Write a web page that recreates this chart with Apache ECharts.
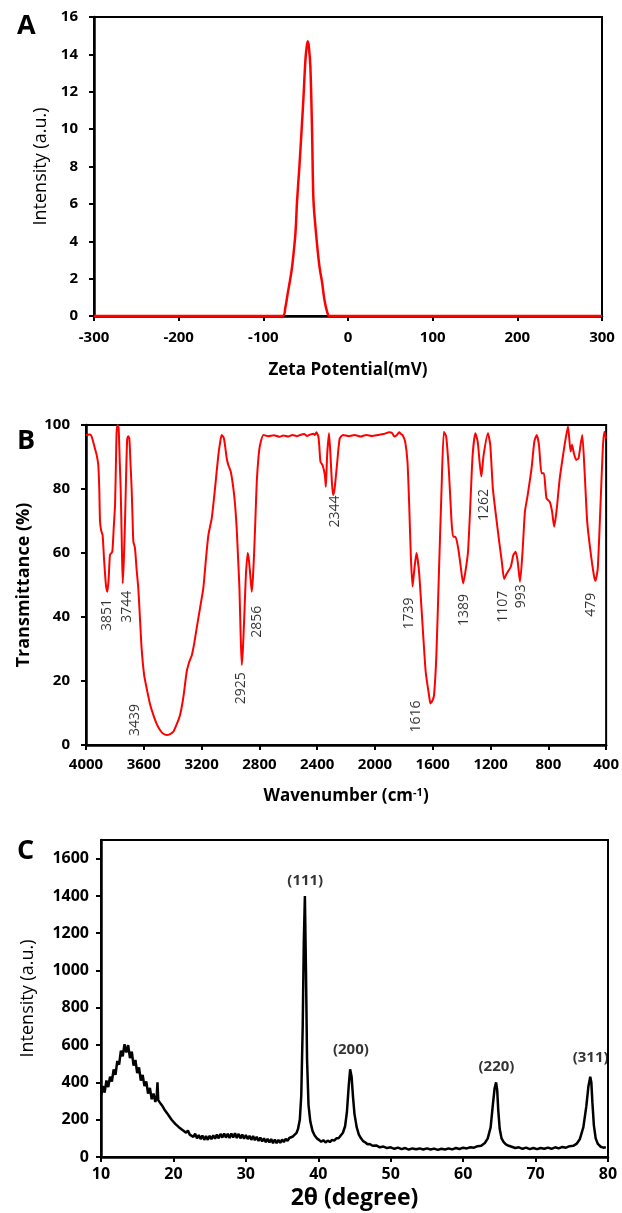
<!DOCTYPE html>
<html>
<head>
<meta charset="utf-8">
<script src="https://cdn.jsdelivr.net/npm/echarts@6/dist/echarts.min.js"></script>
<style>
html, body { margin: 0; padding: 0; background: #fff; }
#chart { width: 622px; height: 1213px; }
</style>
</head>
<body>
<div id="chart"></div>
<script>
// A: zeta potential distribution
var zetaPotential = [-300, -77.2, -74, -71.2, -68.5, -66, -62.1, -60.1, -57.4, -55, -52.7, -50.3, -48.8, -47.6, -46.2, -44.4, -42.4, -40.8, -37.7, -33.7, -30.6, -27.8, -24.5, -22, 300];
var zetaIntensity = [0, 0, 0.45, 1.21, 1.9, 2.64, 4.42, 6.2, 8.0, 9.8, 11.6, 13.7, 14.4, 14.7, 14.4, 13.3, 9.8, 6.2, 4.4, 2.64, 1.8, 0.86, 0.2, 0, 0];

// B: FTIR spectrum
var ftirWavenumber = [4000, 3972, 3961, 3940, 3926, 3915, 3908, 3903, 3895, 3885, 3875, 3862, 3852, 3843, 3834, 3818, 3808, 3799, 3792, 3788, 3780, 3774, 3766, 3760, 3753, 3746, 3738, 3730, 3722, 3715, 3708, 3700, 3692, 3684, 3676, 3672, 3661, 3650, 3638, 3627, 3615, 3598, 3580, 3558, 3534, 3510, 3488, 3465, 3442, 3418, 3395, 3372, 3349, 3326, 3303, 3285, 3268, 3250, 3234, 3210, 3188, 3170, 3153, 3130, 3107, 3084, 3070, 3061, 3045, 3026, 3015, 2998, 2980, 2968, 2957, 2947, 2938, 2930, 2922, 2914, 2906, 2898, 2892, 2881, 2873, 2865, 2853, 2845, 2837, 2828, 2818, 2806, 2795, 2772, 2740, 2700, 2660, 2634, 2600, 2570, 2540, 2518, 2490, 2470, 2450, 2426, 2416, 2405, 2400, 2392, 2386, 2377, 2363, 2347, 2340, 2331, 2318, 2308, 2298, 2290, 2279, 2263, 2244, 2221, 2180, 2140, 2100, 2061, 2020, 1980, 1940, 1901, 1880, 1866, 1850, 1832, 1820, 1809, 1791, 1775, 1763, 1752, 1740, 1729, 1713, 1695, 1672, 1649, 1626, 1616, 1601, 1591, 1575, 1557, 1539, 1523, 1507, 1488, 1470, 1459, 1443, 1424, 1408, 1390, 1374, 1356, 1340, 1324, 1305, 1289, 1276, 1264, 1248, 1218, 1202, 1184, 1163, 1140, 1122, 1106, 1088, 1060, 1042, 1026, 1012, 996, 980, 962, 943, 916, 897, 881, 865, 847, 831, 813, 790, 774, 760, 744, 721, 698, 680, 664, 646, 636, 623, 607, 591, 577, 565, 549, 531, 508, 485, 474, 458, 439, 423, 412, 400];
var ftirTransmittance = [96.9, 97, 96.4, 93, 90.6, 87.5, 80, 70, 67, 65.6, 58, 50, 47.9, 52, 59.4, 60.4, 68, 75, 90, 97.9, 100, 99, 88, 80, 65, 50.5, 58, 69.8, 85, 95.5, 96.5, 95.8, 88, 80, 68, 63.5, 61.5, 55, 49, 40, 30.2, 22, 17.7, 13, 9.4, 6.5, 4.7, 3.5, 3.1, 3.4, 4.2, 6.5, 9.4, 15, 22.9, 26, 28, 32, 36.5, 43, 49, 58, 65.6, 70.8, 80.2, 90.6, 95, 96.9, 95.8, 89.6, 87.5, 85.4, 80.2, 75, 67.7, 58, 49, 35, 25, 30, 38.5, 48, 54.2, 60, 58, 54.2, 47.9, 52, 59.4, 70, 82.3, 90, 93.8, 96.9, 96.5, 96.8, 96.3, 96.7, 96.4, 96.9, 96.5, 96.9, 97.2, 96.6, 97, 97.3, 96.9, 97.7, 97.3, 96.5, 93.8, 88.5, 87.5, 84.4, 80.7, 90.6, 97.4, 90.6, 82, 78.1, 80.2, 87.5, 95.8, 96.9, 96.5, 96.9, 96.4, 96.9, 96.6, 96.9, 97.2, 97.7, 97.4, 96.4, 96.8, 97.7, 97.2, 96.9, 94.8, 88.5, 75, 59.4, 49.5, 54.2, 60, 54.2, 38.5, 22.9, 15.6, 13, 14, 15.6, 28, 54.2, 80.2, 97.9, 96.4, 85.4, 69.8, 65.1, 65.1, 61.5, 56.3, 50.5, 54.2, 60.4, 75, 90.6, 97.4, 94.8, 88.5, 83.9, 90.6, 97.4, 93.8, 80.2, 71.9, 63.5, 57.3, 51.9, 53.6, 55.7, 59.4, 60.4, 57.3, 51, 59.4, 72.9, 78.1, 86.5, 94.8, 96.9, 93.8, 84.9, 84.9, 77.1, 76, 72.9, 68.2, 72.9, 83.3, 90.6, 95.8, 99.5, 91.7, 93.8, 91.1, 89.1, 89.6, 93.8, 96.9, 85.4, 69.8, 60.4, 53.1, 51.3, 55.2, 75, 92.7, 97.9, 95.8];
// band labels (text, anchor wavenumber, anchor transmittance)
var ftirBandText = ["3851", "3744", "3439", "2925", "2856", "2344", "1739", "1616", "1389", "1262", "1107", "993", "479"];
var ftirBandWn = [3852, 3716, 3661, 2929, 2818, 2279, 1763, 1713, 1381, 1248, 1117, 989, 508];
var ftirBandT = [40.6, 43.2, 7.8, 17.7, 38.5, 73, 41.1, 8.9, 42.2, 75, 43.2, 46.5, 43.8];

// C: XRD pattern
var xrdTheta = [10, 10.25, 10.5, 10.75, 11, 11.25, 11.5, 11.75, 12, 12.25, 12.5, 12.75, 13, 13.25, 13.5, 13.75, 14, 14.25, 14.5, 14.75, 15, 15.25, 15.5, 15.75, 16, 16.25, 16.5, 16.75, 17, 17.25, 17.5, 17.7, 17.8, 17.9, 18, 18.25, 18.5, 18.75, 19, 19.25, 19.5, 19.75, 20, 20.25, 20.5, 20.75, 21, 21.25, 21.5, 21.75, 22, 22.25, 22.5, 22.75, 23, 23.25, 23.5, 23.75, 24, 24.25, 24.5, 24.75, 25, 25.25, 25.5, 25.75, 26, 26.25, 26.5, 26.75, 27, 27.25, 27.5, 27.75, 28, 28.25, 28.5, 28.75, 29, 29.25, 29.5, 29.75, 30, 30.25, 30.5, 30.75, 31, 31.25, 31.5, 31.75, 32, 32.25, 32.5, 32.75, 33, 33.25, 33.5, 33.75, 34, 34.25, 34.5, 34.75, 35, 35.25, 35.5, 35.75, 36, 36.25, 36.5, 36.75, 37, 37.2, 37.45, 37.65, 37.85, 38, 38.15, 38.3, 38.45, 38.65, 38.9, 39.2, 39.5, 39.8, 40.1, 40.4, 40.7, 41, 41.3, 41.6, 41.9, 42.2, 42.5, 42.8, 43.1, 43.4, 43.7, 43.95, 44.2, 44.4, 44.6, 44.8, 45, 45.3, 45.6, 45.9, 46.2, 46.5, 46.8, 47.1, 47.5, 48, 48.5, 49, 49.5, 50, 50.5, 51, 51.5, 52, 52.5, 53, 53.5, 54, 54.5, 55, 55.5, 56, 56.5, 57, 57.5, 58, 58.5, 59, 59.5, 60, 60.5, 61, 61.5, 62, 62.5, 63, 63.4, 63.8, 64.1, 64.35, 64.55, 64.7, 64.85, 65.05, 65.3, 65.6, 65.9, 66.3, 66.7, 67.2, 67.7, 68.2, 68.7, 69.2, 69.7, 70.2, 70.7, 71.2, 71.7, 72.2, 72.7, 73.2, 73.7, 74.2, 74.7, 75.2, 75.7, 76.1, 76.6, 77, 77.3, 77.55, 77.7, 77.85, 78.05, 78.3, 78.6, 79, 79.35, 79.7, 80];
var xrdIntensity = [330, 380, 345, 410, 375, 430, 405, 470, 440, 515, 495, 570, 540, 605, 560, 600, 530, 565, 490, 520, 450, 480, 410, 440, 380, 405, 340, 370, 310, 340, 295, 330, 400, 305, 300, 285, 272, 255, 245, 228, 220, 200, 198, 178, 180, 160, 165, 145, 150, 130, 142, 120, 130, 108, 125, 100, 118, 96, 115, 92, 112, 92, 114, 95, 116, 98, 120, 100, 124, 104, 126, 104, 125, 102, 126, 104, 128, 102, 124, 100, 120, 98, 118, 96, 114, 92, 112, 90, 108, 86, 104, 84, 100, 80, 98, 78, 96, 74, 94, 74, 92, 76, 94, 80, 98, 86, 102, 96, 110, 112, 130, 150, 200, 330, 700, 1150, 1400, 1000, 520, 280, 190, 140, 115, 100, 92, 82, 90, 78, 88, 80, 92, 88, 100, 100, 115, 130, 165, 240, 380, 470, 430, 320, 230, 160, 120, 100, 85, 78, 68, 70, 60, 62, 52, 56, 48, 52, 44, 50, 42, 48, 40, 46, 42, 46, 40, 46, 40, 45, 38, 44, 40, 46, 41, 48, 43, 50, 46, 52, 50, 58, 60, 75, 100, 160, 280, 370, 400, 360, 250, 150, 100, 80, 68, 60, 55, 48, 52, 44, 50, 42, 48, 42, 48, 44, 50, 44, 52, 46, 54, 50, 58, 60, 72, 95, 160, 270, 380, 430, 400, 290, 170, 100, 70, 55, 50, 52];
// reflection labels
var xrdPeakText = ["(111)", "(200)", "(220)", "(311)"];
var xrdPeakTheta = [38.2, 44.5, 64.6, 77.6];
var xrdPeakY = [1480, 575, 485, 535];

var font = "'Open Sans', 'DejaVu Sans', sans-serif";

function zip(xs, ys) {
	var out = [];
	for (var i = 0; i < xs.length; i++) {
		out.push([xs[i], ys[i]]);
	}
	return out;
}
function label_points(xs, ys, texts) {
	var out = [];
	for (var i = 0; i < xs.length; i++) {
		out.push({ name: texts[i], value: [xs[i], ys[i]] });
	}
	return out;
}
// 公共坐标轴样式
function make_axis(extra) {
	var axis = {
		type: "value",
		nameLocation: "middle",
		axisLine: { show: true, onZero: false, lineStyle: { color: "#000", width: 2.5 } },
		axisTick: { show: true, inside: false, length: 5, lineStyle: { color: "#000", width: 2 } },
		splitLine: { show: false },
		axisLabel: { color: "#000", fontFamily: font, fontWeight: "bold", fontSize: 15,
			formatter: function (v) { return String(v); } },
		nameTextStyle: { color: "#000", fontFamily: font, fontWeight: "bold", fontSize: 17 }
	};
	for (var k in extra) {
		if (typeof extra[k] === "object" && axis[k] && !Array.isArray(extra[k])) {
			for (var j in extra[k]) axis[k][j] = extra[k][j];
		} else {
			axis[k] = extra[k];
		}
	}
	return axis;
}

var chart = echarts.init(document.getElementById("chart"), null, { renderer: "canvas" });
var option = {
	animation: false,
	backgroundColor: "#fff",
	title: [
		{ text: "A", left: 12, top: 8, textStyle: { fontFamily: font, fontWeight: "bold", fontSize: 27, color: "#000" } },
		{ text: "B", left: 12, top: 423, textStyle: { fontFamily: font, fontWeight: "bold", fontSize: 27, color: "#000" } },
		{ text: "C", left: 12, top: 833, textStyle: { fontFamily: font, fontWeight: "bold", fontSize: 27, color: "#000" } }
	],
	grid: [
		{ left: 94, top: 17, width: 508, height: 299, show: true, borderColor: "#000", borderWidth: 2, backgroundColor: "transparent" },
		{ left: 86, top: 425, width: 522, height: 320, show: true, borderColor: "#000", borderWidth: 2, backgroundColor: "transparent" },
		{ left: 101, top: 840, width: 507, height: 317, show: true, borderColor: "#000", borderWidth: 2, backgroundColor: "transparent" }
	],
	xAxis: [
		make_axis({ gridIndex: 0, min: -300, max: 300, interval: 100, name: "Zeta Potential(mV)", nameGap: 46,
			axisLabel: { margin: 14 } }),
		make_axis({ gridIndex: 1, min: 400, max: 4000, interval: 400, inverse: true, name: "Wavenumber (cm{sup|-1})", nameGap: 42,
			axisLabel: { margin: 12 },
			nameTextStyle: { rich: { sup: { fontFamily: font, fontWeight: "bold", fontSize: 11, verticalAlign: "top", padding: [0, 0, 8, 0] } } } }),
		make_axis({ gridIndex: 2, min: 10, max: 80, interval: 10, name: "2θ (degree)", nameGap: 30,
			axisLabel: { margin: 9, fontSize: 16 },
			nameTextStyle: { fontSize: 23 } })
	],
	yAxis: [
		make_axis({ gridIndex: 0, min: 0, max: 16, interval: 2, name: "Intensity (a.u.)", nameGap: 42,
			axisLabel: { margin: 16 },
			nameTextStyle: { fontWeight: "normal", fontSize: 18 } }),
		make_axis({ gridIndex: 1, min: 0, max: 100, interval: 20, name: "Transmittance (%)", nameGap: 46,
			axisLabel: { margin: 16 },
			nameTextStyle: { fontSize: 18 } }),
		make_axis({ gridIndex: 2, min: 0, max: 1700, interval: 200, name: "Intensity (a.u.)", nameGap: 64,
			axisLabel: { margin: 12, fontSize: 16, showMaxLabel: false },
			nameTextStyle: { fontWeight: "normal", fontSize: 18 } })
	],
	series: [
		{
			type: "line", xAxisIndex: 0, yAxisIndex: 0, z: 5,
			data: zip(zetaPotential, zetaIntensity),
			smooth: 0.3, showSymbol: false,
			lineStyle: { color: "#ff0000", width: 2.5 }
		},
		{
			type: "line", xAxisIndex: 1, yAxisIndex: 1, z: 5,
			data: zip(ftirWavenumber, ftirTransmittance),
			smooth: 0.2, showSymbol: false,
			lineStyle: { color: "#ff0000", width: 2 }
		},
		{
			type: "scatter", xAxisIndex: 1, yAxisIndex: 1, symbolSize: 0, silent: true,
			data: label_points(ftirBandWn, ftirBandT, ftirBandText),
			label: { show: true, position: "inside", rotate: 90, formatter: "{b}", color: "#000", fontFamily: font, fontSize: 14 }
		},
		{
			type: "line", xAxisIndex: 2, yAxisIndex: 2, z: 5,
			data: zip(xrdTheta, xrdIntensity),
			showSymbol: false,
			lineStyle: { color: "#000", width: 2.5 }
		},
		{
			type: "scatter", xAxisIndex: 2, yAxisIndex: 2, symbolSize: 0, silent: true,
			data: label_points(xrdPeakTheta, xrdPeakY, xrdPeakText),
			label: { show: true, position: "inside", formatter: "{b}", color: "#000", fontFamily: font, fontWeight: "bold", fontSize: 15 }
		}
	]
};
chart.setOption(option, true);
</script>
</body>
</html>
